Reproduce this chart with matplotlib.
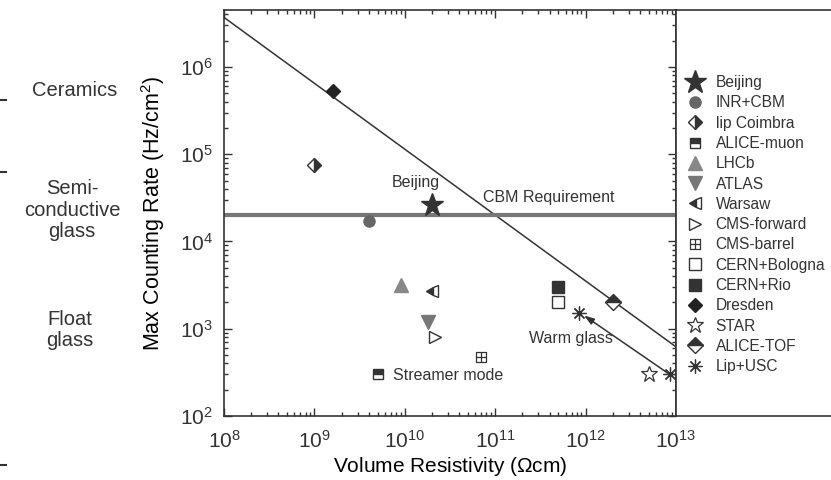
import matplotlib.pyplot as plt
from matplotlib.lines import Line2D
from matplotlib.path import Path
from matplotlib.ticker import LogLocator, NullFormatter

plt.rcParams['font.family'] = ['Liberation Sans', 'DejaVu Sans']
plt.rcParams['mathtext.fontset'] = 'custom'
plt.rcParams['mathtext.rm'] = 'Liberation Sans'
plt.rcParams['mathtext.it'] = 'Liberation Sans:italic'
plt.rcParams['mathtext.bf'] = 'Liberation Sans:bold'
plt.rcParams['text.color'] = '#333333'

# experiments: volume resistivity (Ohm cm) vs max counting rate (Hz/cm^2)
groups = ['Beijing', 'INR+CBM', 'lip Coimbra', 'ALICE-muon', 'LHCb', 'ATLAS',
          'Warsaw', 'CMS-forward', 'CMS-barrel', 'CERN+Bologna', 'CERN+Rio',
          'Dresden', 'STAR', 'ALICE-TOF', 'Lip+USC']
resistivity = [[2e10], [4e9], [1e9], [5e9], [9e9], [1.8e10],
               [2e10], [2.15e10], [7e10], [5e11], [5e11],
               [1.6e9], [5e12], [2e12], [8.5e11, 8.5e12]]
rate = [[2.6e4], [1.7e4], [7.5e4], [3e2], [3.2e3], [1.2e3],
        [2.7e3], [8e2], [4.8e2], [2e3], [3e3],
        [5.3e5], [3e2], [2e3], [1.53e3, 3e2]]

# rate limit trend line and CBM requirement
trend_x = [1e8, 1e13]
trend_y = [3.7e6, 6.2e2]
cbm_requirement = 2e4

# material classes on the left
materials = ['Ceramics', 'Semi-\nconductive\nglass', 'Float\nglass']

# square with a cross for CMS-barrel
box_plus = Path([(-1, -1), (1, -1), (1, 1), (-1, 1), (-1, -1),
                 (0, -1), (0, 1), (-1, 0), (1, 0)],
                [Path.MOVETO, Path.LINETO, Path.LINETO, Path.LINETO, Path.CLOSEPOLY,
                 Path.MOVETO, Path.LINETO, Path.MOVETO, Path.LINETO])

dark = '#333333'
styles = [
    dict(marker='*', ms=17, color=dark),
    dict(marker='o', ms=8, color='#666666'),
    dict(marker='D', ms=7, color=dark, fillstyle='right', markerfacecoloralt='white'),
    dict(marker='s', ms=7, color=dark, fillstyle='top', markerfacecoloralt='white'),
    dict(marker='^', ms=10, color='#888888'),
    dict(marker='v', ms=10, color='#777777'),
    dict(marker='<', ms=9, color=dark, fillstyle='left', markerfacecoloralt='white'),
    dict(marker='>', ms=9, color=dark, markerfacecolor='white'),
    dict(marker=box_plus, ms=7, color=dark, markerfacecolor='none', mew=0.9),
    dict(marker='s', ms=8, color=dark, markerfacecolor='white'),
    dict(marker='s', ms=8, color=dark),
    dict(marker='D', ms=7, color='#222222'),
    dict(marker='*', ms=12, color=dark, markerfacecolor='white', mew=0.9),
    dict(marker='D', ms=8, color=dark, fillstyle='top', markerfacecoloralt='white'),
    dict(marker=(8, 2, 0), ms=10, color=dark, mew=0.9),
]

fig = plt.figure(figsize=(8.31, 4.8), dpi=100)
ax = fig.add_axes([224 / 831, 64 / 480, 452 / 831, 406 / 480])
lax = fig.add_axes([676 / 831, 64 / 480, 0.3, 406 / 480])

ax.set_xscale('log')
ax.set_yscale('log')
ax.set_xlim(1e8, 1e13)
ax.set_ylim(1e2, 4.5e6)

ax.plot(trend_x, trend_y, color=dark, lw=1.1, zorder=2)
ax.axhline(cbm_requirement, color='#777777', lw=3, zorder=2)

handles = []
for name, xs, ys, st in zip(groups, resistivity, rate, styles):
    h, = ax.plot(xs, ys, linestyle='none', label=name, zorder=4, **st)
    handles.append(h)

# warm glass shift of the Lip+USC chambers
ax.annotate('', xy=(9.6e11, 1.42e3), xytext=(8.5e12, 3e2),
            arrowprops=dict(arrowstyle='-|>,head_length=0.6,head_width=0.2',
                            color=dark, lw=1.1, shrinkA=0, shrinkB=0))

ax.text(1.33e10, 4.7e4, 'Beijing', fontsize=11.5, ha='center', va='center')
ax.text(3.9e11, 3.2e4, 'CBM Requirement', fontsize=11.5, ha='center', va='center')
ax.text(6.8e11, 7.8e2, 'Warm glass', fontsize=11.5, ha='center', va='center')
ax.text(7.4e9, 2.9e2, 'Streamer mode', fontsize=11.5, ha='left', va='center')

ax.xaxis.set_major_locator(LogLocator(base=10, numticks=10))
ax.xaxis.set_minor_locator(LogLocator(base=10, subs=range(2, 10), numticks=20))
ax.xaxis.set_minor_formatter(NullFormatter())
ax.yaxis.set_minor_formatter(NullFormatter())
ax.tick_params(which='both', direction='in', top=True, right=True,
               colors=dark, labelsize=15, width=1.0)
ax.tick_params(which='major', length=6, pad=8)
ax.tick_params(axis='x', which='major', pad=10)
ax.tick_params(which='minor', length=3)
for s in ax.spines.values():
    s.set_color(dark)
    s.set_linewidth(1.2)

ax.set_xlabel('Volume Resistivity ($\\Omega$cm)', fontsize=15, labelpad=2)
ax.set_ylabel('Max Counting Rate (Hz/cm$^2$)', fontsize=15.5, labelpad=9)

# legend panel to the right of the plot
lax.set_xticks([])
lax.set_yticks([])
lax.spines['right'].set_visible(False)
for s in lax.spines.values():
    s.set_color(dark)
    s.set_linewidth(1.2)
lax.legend(handles=handles, loc='upper left', bbox_to_anchor=(0.012, 0.855),
           frameon=False, fontsize=11.2, labelspacing=0.34, handlelength=1.2,
           handletextpad=0.75, borderaxespad=0, numpoints=1)

# material classes with boundary ticks
for label, x, y in zip(materials, [75, 72, 70], [90, 210, 330]):
    fig.text(x / 831, 1 - y / 480, label, fontsize=14.5, ha='center', va='center',
             linespacing=1.18)
for y in [100, 172, 465]:
    fig.add_artist(Line2D([0, 6 / 831], [1 - y / 480] * 2, transform=fig.transFigure,
                          color=dark, lw=1.5))

fig.savefig('out.png', dpi=100)
